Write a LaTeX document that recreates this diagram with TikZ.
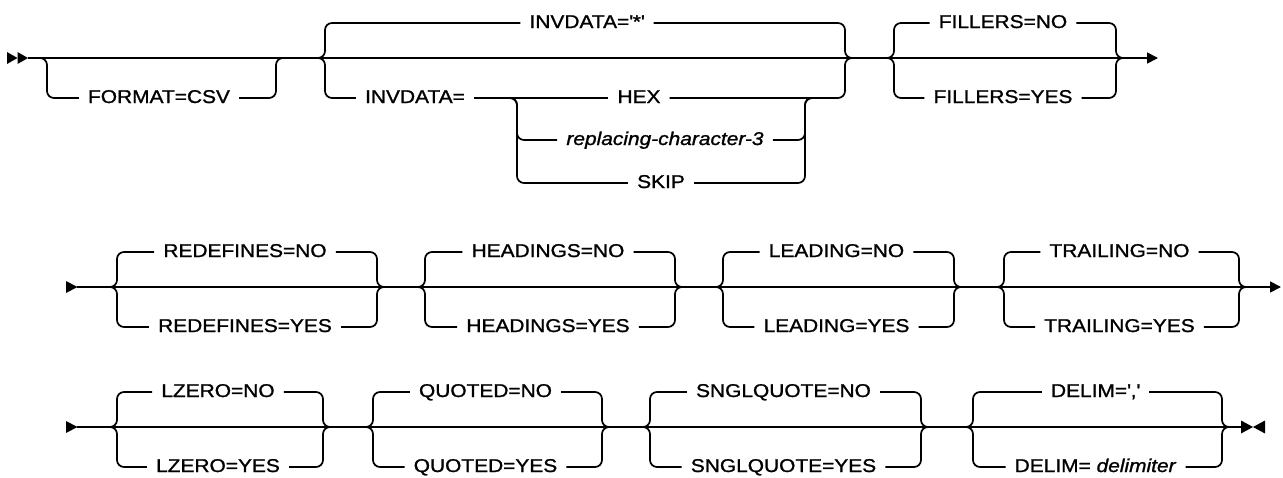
\documentclass[tikz,border=0pt]{standalone}
\usepackage{fontspec}
\setmainfont[FakeStretch=1.13, FakeBold=1.2]{Liberation Sans}
\usetikzlibrary{arrows.meta}

\begin{document}
\begin{tikzpicture}[x=1pt, y=-1pt,
    rail/.style={line width=1.7pt, rounded corners=7pt},
    opt/.style={inner xsep=9pt, inner ysep=0pt, text height=12pt, text depth=2pt,
        font=\fontsize{18.5}{20}\selectfont},
    endtip/.style={-{Triangle[length=11pt, width=11pt]}}]
    \useasboundingbox (0,0) rectangle (1283,477);
    % Main lines
    \coordinate (r1s) at (28,58);  \coordinate (r1e) at (1158,58);
    \coordinate (r2s) at (77,287); \coordinate (r2e) at (1281,287);
    \coordinate (r3s) at (77,427); \coordinate (r3e) at (1242,427);
    \draw[rail, endtip] (r1s) -- (r1e);
    \draw[rail, endtip] (r2s) -- (r2e);
    \draw[rail] (r3s) -- (r3e);
    % Start and end marks
    \fill (7,52) -- (17.5,58) -- (7,64) -- cycle;
    \fill (17.5,52) -- (28,58) -- (17.5,64) -- cycle;
    \fill (66,281) -- (77.5,287) -- (66,293) -- cycle;
    \fill (66,421) -- (77.5,427) -- (66,433) -- cycle;
    \fill (1241,420.5) -- (1253,427) -- (1241,433.5) -- cycle;
    \fill (1265,420.5) -- (1253,427) -- (1265,433.5) -- cycle;
    % FORMAT
    \coordinate (fmt-l) at (40,58); \coordinate (fmt-r) at (283,58);
    \node[opt] (fmt) at (159,98) {FORMAT=CSV};
    \draw[rail] (fmt-l) -- ++(7,0) |- (fmt.west);
    \draw[rail] (fmt.east) -| ([xshift=-7pt]fmt-r) -- (fmt-r);
    % INVDATA
    \coordinate (inv-l) at (318,58); \coordinate (inv-r) at (852,58);
    \node[opt] (invdef) at (587,23) {INVDATA=\textquotesingle*\textquotesingle};
    \node[opt] (invset) at (415,98) {INVDATA=};
    \node[opt] (hex) at (639,98) {HEX};
    \draw[rail] (inv-l) -- ++(7,0) |- (invdef.west);
    \draw[rail] (invdef.east) -| ([xshift=-7pt]inv-r) -- (inv-r);
    \draw[rail] (inv-l) -- ++(7,0) |- (invset.west);
    \draw[rail] (invset.east) -- (hex.west);
    \draw[rail] (hex.east) -| ([xshift=-7pt]inv-r) -- (inv-r);
    \coordinate (hex-l) at (510,98); \coordinate (hex-r) at (812,98);
    \node[opt] (repl) at (665,140) {\itshape replacing-character-3};
    \node[opt] (skip) at (661,183) {SKIP};
    \draw[rail] (hex-l) -- ++(7,0) |- (repl.west);
    \draw[rail] (hex-l) -- ++(7,0) |- (skip.west);
    \draw[rail] (repl.east) -| ([xshift=-7pt]hex-r) -- (hex-r);
    \draw[rail] (skip.east) -| ([xshift=-7pt]hex-r) -- (hex-r);
    % Two-way choices: name/left/right/row/default/other
    \foreach \n/\xl/\xr/\y/\a/\b in {
        fil/887/1123/58/FILLERS=NO/FILLERS=YES,
        red/110/384/287/REDEFINES=NO/REDEFINES=YES,
        hdg/418/682/287/HEADINGS=NO/HEADINGS=YES,
        lead/716/961/287/LEADING=NO/LEADING=YES,
        trl/997/1246/287/TRAILING=NO/TRAILING=YES,
        lz/110/330/427/LZERO=NO/LZERO=YES,
        quo/366/609/427/QUOTED=NO/QUOTED=YES,
        sq/643/928/427/SNGLQUOTE=NO/SNGLQUOTE=YES,
        del/966/1229/427/{DELIM=\textquotesingle,\textquotesingle}/{DELIM= \textit{delimiter}}}
    {
        \coordinate (\n-l) at (\xl,\y);
        \coordinate (\n-r) at (\xr,\y);
        \node[opt] (\n-a) at ({(\xl+\xr)/2-2},{\y-35}) {\a};
        \node[opt] (\n-b) at ({(\xl+\xr)/2-2},{\y+40}) {\b};
        \draw[rail] (\n-l) -- ++(7,0) |- (\n-a.west);
        \draw[rail] (\n-l) -- ++(7,0) |- (\n-b.west);
        \draw[rail] (\n-a.east) -| ([xshift=-7pt]\n-r) -- (\n-r);
        \draw[rail] (\n-b.east) -| ([xshift=-7pt]\n-r) -- (\n-r);
    }
\end{tikzpicture}
\end{document}
